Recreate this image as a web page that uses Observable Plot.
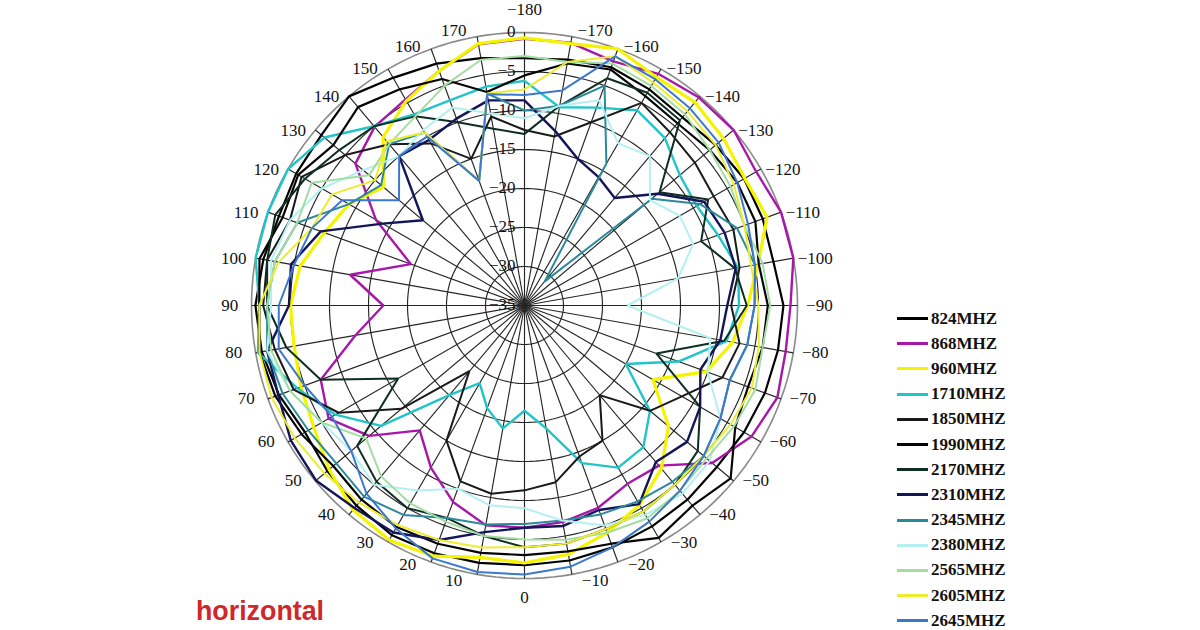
<!DOCTYPE html>
<html><head><meta charset="utf-8">
<script src="https://cdn.jsdelivr.net/npm/d3@7"></script>
<script src="https://cdn.jsdelivr.net/npm/@observablehq/plot@0.6"></script>
<style>
body{margin:0;background:#fff;}
#wrap{position:relative;width:1200px;height:630px;overflow:hidden;}
#legend{position:absolute;left:897px;top:306px;font-family:"Liberation Serif",serif;font-weight:bold;font-size:17px;color:#111;}
.row{height:25.2px;display:flex;align-items:center;}
.sw{width:31px;height:3px;margin-right:3px;}
#note{position:absolute;left:196px;top:596px;font-family:"Liberation Sans",Arial,sans-serif;font-weight:bold;font-size:26.8px;color:#d02828;}
</style>
</head><body><div id="wrap"><div id="chart"></div><div id="legend"></div><div id="note">horizontal</div></div>
<script>
// angle (deg): 0 bottom, 90 left, 180 top, -90 right
const angles = [0,10,20,30,40,50,60,70,80,90,100,110,120,130,140,150,160,170,180,-170,-160,-150,-140,-130,-120,-110,-100,-90,-80,-70,-60,-50,-40,-30,-20,-10];
const seriesNames = ["824MHZ","868MHZ","960MHZ","1710MHZ","1850MHZ","1990MHZ","2170MHZ","2310MHZ","2345MHZ","2380MHZ","2565MHZ","2605MHZ","2645MHZ"];
const seriesColors = ["#000000","#a818a8","#f4f400","#22c4c8","#1a1a1a","#050505","#0e2e22","#141458","#2a8a9c","#b4f0f0","#a4dca4","#ecec30","#3c78cc"];
const seriesWidths = [2.2,2.4,3.2,2.4,2,2.2,2,2.4,2,2,2,2,2];

const mhz824  = [-1.7,-1.5,-1.2,-1,-1.5,-2,-2.5,-1.5,-0.8,-0.5,-1,-1.5,-1.2,-1,0,-1.3,-2,-2.8,-3.3,-3,-2.5,-3,-3.5,-3,-2.5,-2.5,-2.6,-1.8,-2,-2.2,-2.5,-2.8,-2.5,-2.3,-2,-1.8];
const mhz868  = [-6.5,-6.4,-8.2,-11,-14.1,-9,-6,-7.2,-13,-16.9,-12.3,-19.5,-13,-6.7,-5.1,-4.5,-3,-1,-0.8,-0.8,-1.7,-0.7,-0.2,0,-0.7,0,0,-0.9,-1,-0.5,-1.4,-3.6,-8.2,-8.6,-7.4,-6.8];
const mhz960  = [-2,-2.2,-0.8,-0.3,-0.8,-2.3,-3.8,-4.5,-5,-5,-5.8,-7.7,-9,-11.4,-6.8,-4.7,-3,-0.9,-0.7,-0.9,0,-1.2,-1,-1.7,-2.4,-1.9,-4.6,-6.4,-7.9,-10.2,-16,-10.9,-7.7,-5.5,-4,-2.6];
const mhz1710 = [-21.5,-19,-21,-23.5,-20,-11,-7,-4,-0.3,-1,0,0,0,-1.5,-5,-6.7,-7,-6.5,-6.2,-9.2,-8,-6.1,-7,-9,-9.5,-8.6,-7.2,-7.5,-8.7,-14,-20,-14,-11.3,-11,-13.5,-19];
const mhz1850 = [-11.3,-10.5,-11,-15,-24,-14.4,-7.5,-3.5,-2.5,-1.5,-1.5,-3,-2,-5,-8,-11,-15,-10.4,-12.5,-13,-10,-5,-6,-6.5,-7,-6.5,-7,-8.5,-7,-8,-11.7,-14,-20,-15,-14.4,-12];
const mhz1990 = [-3,-2.8,-2.5,-2.2,-2.5,-3,-2,-1,-0.5,-1,-0.5,-2,-1.5,-3,-1.8,-3,-4.1,-7.2,-5.5,-3.5,-2.8,-4,-4.5,-4,-3.5,-3.5,-4.5,-3.8,-4,-4.5,-3.8,-0.5,-1.5,-0.6,-2.5,-3];
const mhz2170 = [-4,-5,-6,-5,-5.5,-7,-16.3,-7.2,-4,-2,-1.5,-1,-2.5,-4,-5,-7,-10,-12,-13,-9,-4,-3.5,-4,-12.4,-7.8,-10.9,-7.6,-6.5,-9,-17,-9,-6,-5,-4.5,-4.5,-4];
const mhz2310 = [-6.5,-5.5,-3,-1.4,-1.1,-0.1,-0.4,-1.4,-1.5,-4.8,-4.6,-7.2,-14,-18,-10,-10.5,-9.5,-8.3,-8.7,-12.3,-15,-16,-17,-12.7,-8.4,-7.7,-7.5,-9,-9.5,-11,-9,-7.8,-8.8,-5.6,-7.1,-6.3];
const mhz2345 = [-7,-6.5,-6,-4,-3,-3.5,-3,-2,-1.5,-2,-2.5,-4,-9,-11,-8,-9.4,-18,-7.4,-10,-9,-5,-14,-31,-13.7,-9,-6,-5,-5.5,-6,-7,-6,-5,-5.5,-6,-6.5,-7];
const mhz2380 = [-9,-9,-10,-7.6,-5,-6,-5,-3,-1.5,-2.5,-2,-3,-5,-8,-10,-9,-8,-10,-11,-9,-7,-11,-10,-14,-12,-12,-15,-21.8,-10.8,-10,-6,-4,-3.5,-4,-5,-7];
const mhz2565 = [-5,-5,-5.5,-5.7,-6.4,-8.5,-5,-3,-2,-2,-2.5,-4,-3.5,-9,-8,-7,-5,-3,-3,-3.3,-2,-2.5,-3,-4,-4.5,-5,-4,-3.5,-4,-3.5,-4,-4.5,-4,-3.5,-4,-4.5];
const mhz2605 = [-4,-3.5,-3,-2.5,-2,-1.5,-1,-0.5,-0.5,-1,-3,-6,-6.5,-10,-7.5,-9.4,-18,-7.4,-7.3,-3.3,-1,-2,-2.5,-3,-4,-5,-5.5,-5,-4.5,-4,-4.5,-5,-5,-4.5,-4.5,-4];
const mhz2645 = [-0.5,-0.3,-0.5,-2,-3.5,-6,-6.5,-5,-3,-3.5,-5,-6,-8,-14,-10,-10,-18,-7.5,-8,-7,-1,-1.5,-2,-2.5,-3.5,-4.5,-5,-5.5,-6,-7,-6,-5,-4,-3,-2,-1];
const seriesValues = [mhz824,mhz868,mhz960,mhz1710,mhz1850,mhz1990,mhz2170,mhz2310,mhz2345,mhz2380,mhz2565,mhz2605,mhz2645];

const ringTicks = [-35,-30,-25,-20,-15,-10,-5,0];
const angleTicks = [0,10,20,30,40,50,60,70,80,90,100,110,120,130,140,150,160,170,180,-170,-160,-150,-140,-130,-120,-110,-100,-90,-80,-70,-60,-50,-40,-30,-20,-10];
const angleLabels = ["0","10","20","30","40","50","60","70","80","90","100","110","120","130","140","150","160","170","\u2212180","\u2212170","\u2212160","\u2212150","\u2212140","\u2212130","\u2212120","\u2212110","\u2212100","\u221290","\u221280","\u221270","\u221260","\u221250","\u221240","\u221230","\u221220","\u221210"];
const ringLabels = ["\u221235","\u221230","\u221225","\u221220","\u221215","\u221210","\u22125","0"];

const MIN = -35;
const px = (a, v) => -(v - MIN) * Math.sin(a * Math.PI / 180);
const py = (a, v) => -(v - MIN) * Math.cos(a * Math.PI / 180);
// label placement: labels sit slightly rotated toward the horizontal axis, as in the original
const labA = a => (a === 0 || a === 180) ? a : a + Math.sign(a) * 4.5 * Math.cos(a * Math.PI / 180);
const labV = a => a === 180 ? 2.95 : a === 0 ? 2.5 : 1.3 + 1.5 * Math.sin(a * Math.PI / 180) ** 2;

const lineMarks = seriesNames.map((name, i) => {
  const rows = angles.map((a, k) => ({a, v: seriesValues[i][k]}));
  rows.push(rows[0]);
  return Plot.line(rows, {x: d => px(d.a, d.v), y: d => py(d.a, d.v), stroke: seriesColors[i], strokeWidth: seriesWidths[i], strokeLinejoin: "miter", curve: "linear"});
});

const ringRows = [];
ringTicks.slice(1).forEach(t => { for (let a = 0; a <= 360; a += 2) ringRows.push({t, a}); });

const chart = Plot.plot({
  width: 1200, height: 630,
  marginLeft: 251, marginRight: 403, marginTop: 32, marginBottom: 52,
  x: {domain: [-35, 35], axis: null},
  y: {domain: [-35, 35], axis: null},
  style: {background: "white", overflow: "visible"},
  marks: [
    Plot.line(ringRows.filter(d => d.t < 0), {x: d => px(d.a, d.t), y: d => py(d.a, d.t), z: "t", stroke: "#262626", strokeWidth: 1.15}),
    Plot.line(ringRows.filter(d => d.t === 0), {x: d => px(d.a, d.t), y: d => py(d.a, d.t), z: "t", stroke: "#8a8a8a", strokeWidth: 1.6}),
    Plot.link(angleTicks, {x1: () => 0, y1: () => 0, x2: a => px(a, 0), y2: a => py(a, 0), stroke: "#262626", strokeWidth: 1.15}),
    ...lineMarks,
    Plot.text(angleTicks, {x: a => px(labA(a), labV(a)), y: a => py(labA(a), labV(a)), text: (a, i) => angleLabels[i], fontFamily: "Liberation Serif", fontSize: 17, fill: "#111", textAnchor: "middle"}),
    Plot.text(ringTicks, {x: () => 0, y: t => py(180, t), text: (t, i) => ringLabels[i], fontFamily: "Liberation Serif", fontSize: 17, fill: "#111", textAnchor: "end", dx: -9, dy: -1})
  ]
});
document.getElementById("chart").appendChild(chart);

const legend = document.getElementById("legend");
seriesNames.forEach((name, i) => {
  const row = document.createElement("div");
  row.className = "row";
  const sw = document.createElement("span");
  sw.className = "sw";
  sw.style.background = seriesColors[i];
  const tx = document.createElement("span");
  tx.textContent = name;
  row.appendChild(sw); row.appendChild(tx);
  legend.appendChild(row);
});
</script>
</body></html>
